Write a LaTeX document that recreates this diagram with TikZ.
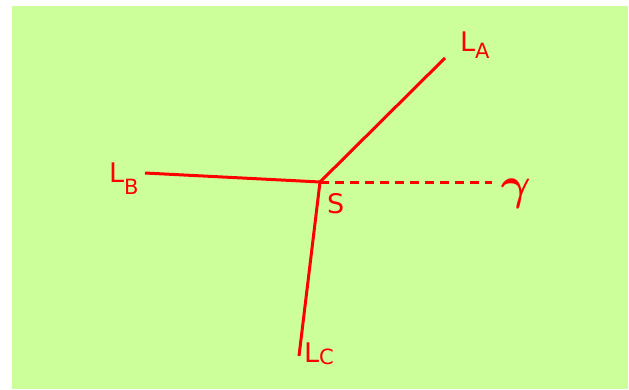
\documentclass[tikz,border=0pt]{standalone}
\usepackage{amsmath}
\usepackage{fontspec}
\setmainfont{DejaVu Sans}
\definecolor{bggreen}{HTML}{CCFF99}
\begin{document}
\begin{tikzpicture}[x=1pt,y=-1pt,
  edge/.style={draw=red,line width=3pt},
  lbl/.style={text=red,inner sep=0pt,font=\fontsize{27}{30}\selectfont}]
\useasboundingbox (0,0) rectangle (629,389);
\fill[bggreen] (12,6) rectangle (628,389);
\coordinate (S) at (320,182);
\coordinate (A) at (445,58);
\coordinate (B) at (145,173);
\coordinate (C) at (299,356);
\coordinate (G) at (492,182);
\draw[edge] (S) -- (A);
\draw[edge] (S) -- (B);
\draw[edge] (S) -- (C);
\draw[edge,dash pattern=on 9pt off 6pt] (S) -- (G);
\node[lbl,anchor=base west] (la) at (460,51) {L\raisebox{-7pt}{\fontsize{21}{22}\selectfont A}};
\node[lbl,anchor=base west] (lb) at (109,182) {L\raisebox{-12pt}{\fontsize{21}{22}\selectfont B}};
\node[lbl,anchor=base west] (lc) at (304,362) {L\raisebox{-2pt}{\fontsize{21}{22}\selectfont C}};
\node[lbl,anchor=base west] (ls) at (327,213) {S};
\node[text=red,inner sep=0pt,anchor=center,scale=4.6] (lg) at (516,194) {$\boldsymbol{\gamma}$};
\end{tikzpicture}
\end{document}
